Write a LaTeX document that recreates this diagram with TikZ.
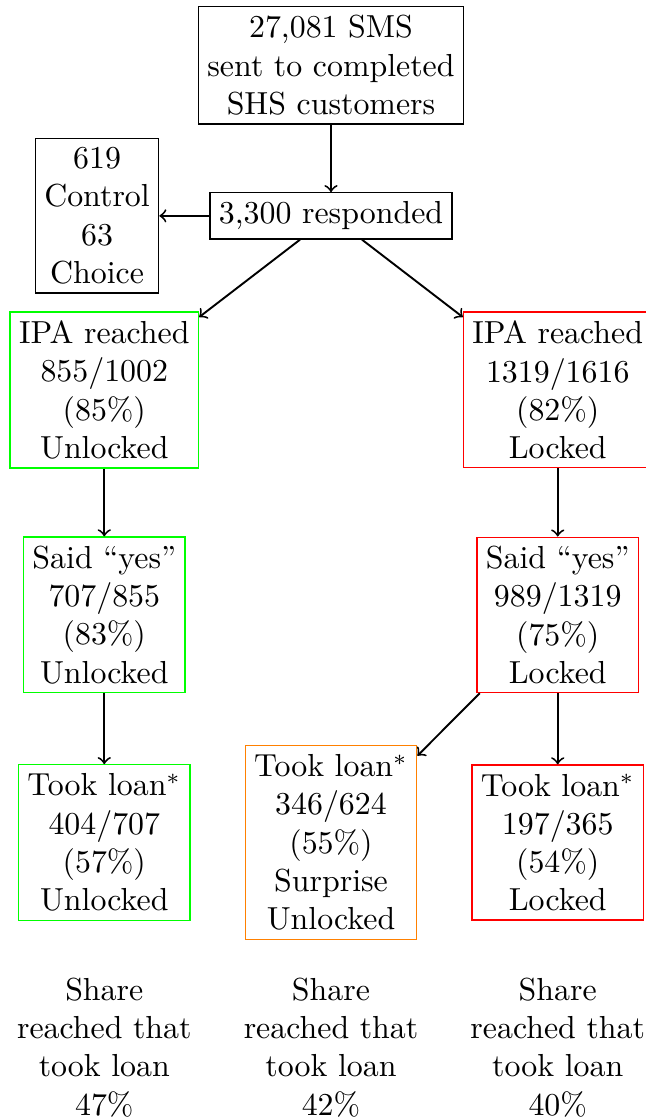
\documentclass[tikz,border=0pt]{standalone}
\usetikzlibrary{arrows}

\begin{document}
\begin{tikzpicture}[box/.style={draw, align=center, inner sep=2.8pt}, flow/.style={arrows={-to}, semithick}]
\useasboundingbox (-3.65,0.72) rectangle (3.47,-11.63);

%sms and responses
\node[box] at (0,0) (sms) {27,081 SMS\\sent to completed\\SHS customers};
\node[box] at (0,-1.66) (resp) {3,300 responded};
\node[box] at (-2.58,-1.66) (ctrl) {619\\Control\\63\\Choice};

%reached by IPA
\node[box, draw=green] at (-2.5,-3.58) (reachU) {IPA reached\\855/1002\\(85\%)\\Unlocked};
\node[box, draw=red] at (2.5,-3.58) (reachL) {IPA reached\\1319/1616\\(82\%)\\Locked};

%said yes
\node[box, draw=green] at (-2.5,-6.06) (yesU) {Said ``yes''\\707/855\\(83\%)\\Unlocked};
\node[box, draw=red] at (2.5,-6.06) (yesL) {Said ``yes''\\989/1319\\(75\%)\\Locked};

%took loan
\node[box, draw=green] at (-2.5,-8.57) (loanU) {Took loan$^*$\\404/707\\(57\%)\\Unlocked};
\node[box, draw=orange] at (0,-8.57) (loanS) {Took loan$^*$\\346/624\\(55\%)\\Surprise\\Unlocked};
\node[box, draw=red] at (2.5,-8.57) (loanL) {Took loan$^*$\\197/365\\(54\%)\\Locked};

%shares
\node[align=center] at (-2.5,-10.83) (shareU) {Share\\reached that\\took loan\\47\%};
\node[align=center] at (0,-10.83) (shareS) {Share\\reached that\\took loan\\42\%};
\node[align=center] at (2.5,-10.83) (shareL) {Share\\reached that\\took loan\\40\%};

%arrows
\draw[flow] (sms) -- (resp);
\draw[flow] (resp) -- (ctrl);
\draw[flow] (resp) -- (reachU);
\draw[flow] (resp) -- (reachL);
\draw[flow] (reachU) -- (yesU);
\draw[flow] (reachL) -- (yesL);
\draw[flow] (yesU) -- (loanU);
\draw[flow] (yesL) -- (loanS);
\draw[flow] (yesL) -- (loanL);

\end{tikzpicture}
\end{document}
